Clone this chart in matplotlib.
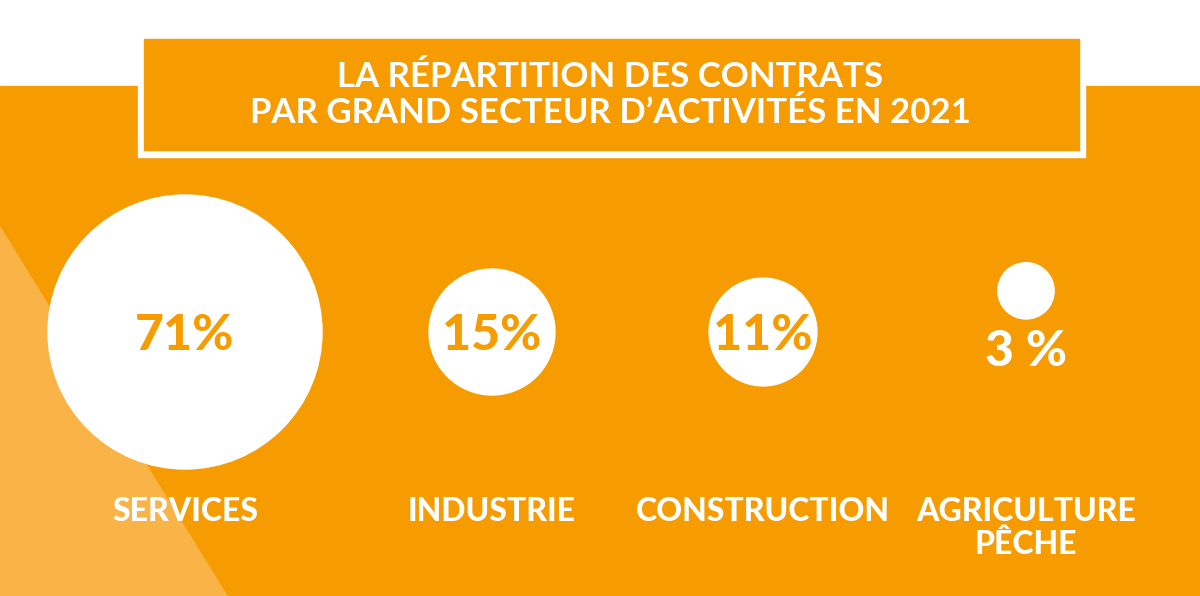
import matplotlib.pyplot as plt
from matplotlib.patches import Rectangle, Circle, Polygon
import numpy as np

# donnees
secteurs = ["SERVICES", "INDUSTRIE", "CONSTRUCTION", "AGRICULTURE\nPÊCHE"]
parts = [71, 15, 11, 3]
titre = "LA RÉPARTITION DES CONTRATS\nPAR GRAND SECTEUR D\u2019ACTIVITÉS EN 2021"

orange = "#F69C00"
orange_clair = "#F9B347"
blanc = "white"

fig = plt.figure(figsize=(12, 5.96), dpi=100)
ax = fig.add_axes([0, 0, 1, 1])
ax.set_xlim(0, 1200)
ax.set_ylim(596, 0)
ax.set_aspect("equal")
ax.axis("off")

# fond
ax.add_patch(Rectangle((0, 86), 1200, 510, color=orange, zorder=0))
ax.add_patch(Polygon([(0, 227), (227, 596), (0, 596)], closed=True, color=orange_clair, zorder=1))

# cadre du titre
ax.add_patch(Rectangle((138, 39), 947, 118, color=blanc, zorder=2))
ax.add_patch(Rectangle((144, 39), 935, 111, color=orange, zorder=3))
ax.text(610, 95, titre, ha="center", va="center", color=blanc, fontsize=25,
        fontfamily="Lato", fontweight="bold", linespacing=1.15, zorder=4)

# bulles : aire proportionnelle a la part
xs = [185, 492, 763, 1026]
k = 137 / np.sqrt(max(parts))
for x, v, nom in zip(xs, parts, secteurs):
    r = k * np.sqrt(v)
    if r > 40:
        cy = 332
        ax.add_patch(Circle((x, cy), r, color=blanc, zorder=5))
        ax.text(x, cy + 3, f"{v}%", ha="center", va="center", color=orange,
                fontsize=36, fontfamily="Lato", fontweight=900, zorder=6)
    else:
        cy = 319 - r
        ax.add_patch(Circle((x, cy), r, color=blanc, zorder=5))
        ax.text(x, 351, f"{v} %", ha="center", va="center", color=blanc,
                fontsize=36, fontfamily="Lato", fontweight=900, zorder=6)
    ax.text(x, 497, nom, ha="center", va="top", color=blanc, fontsize=23,
            fontfamily="Lato", fontweight=900, linespacing=1.15, zorder=6)

fig.savefig("out.png", dpi=100)
